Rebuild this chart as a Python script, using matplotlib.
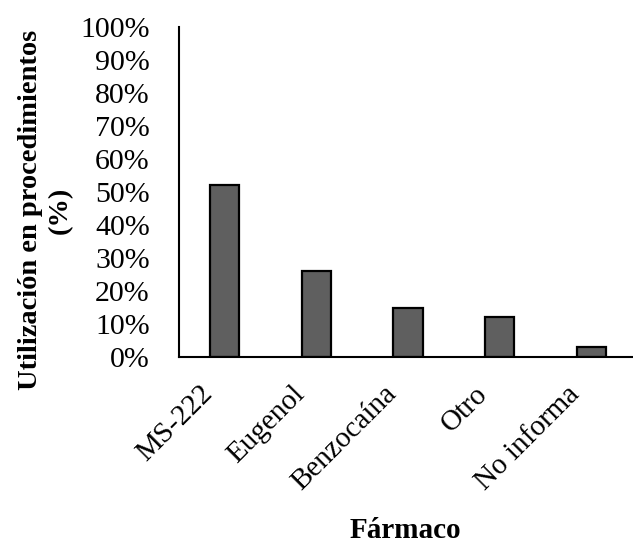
import matplotlib
matplotlib.use("Agg")
import matplotlib.pyplot as plt
from matplotlib.ticker import PercentFormatter
from matplotlib.transforms import ScaledTranslation

farmacos = ["MS-222", "Eugenol", "Benzocaína", "Otro", "No informa"]
utilizacion = [52, 26, 15, 12, 3]
yticks = list(range(0, 101, 10))

plt.rcParams["font.family"] = ["Liberation Serif", "DejaVu Serif"]

fig = plt.figure(figsize=(6.33, 5.52), dpi=100)
ax = fig.add_axes([179 / 633, 1 - 357 / 552, 458 / 633, 330 / 552])

x = range(len(farmacos))
ax.bar(x, utilizacion, width=0.32, color="#5f5f5f", edgecolor="black", linewidth=1.6)

ax.set_xlim(-0.5, len(farmacos) - 0.5)
ax.set_ylim(0, 100)
ax.set_yticks(yticks)
ax.yaxis.set_major_formatter(PercentFormatter(decimals=0))
ax.set_xticks(list(x))
ax.set_xticklabels(farmacos, rotation=45, ha="right", rotation_mode="anchor")

ax.tick_params(axis="x", length=0, labelsize=21, pad=10)
ax.tick_params(axis="y", length=0, labelsize=21.5, pad=21)

# shift the rotated labels a bit left/down, like the original
shift = ScaledTranslation(-25 / 100, -10 / 100, fig.dpi_scale_trans)
for lbl in ax.get_xticklabels():
    lbl.set_transform(lbl.get_transform() + shift)

for s in ["top", "right"]:
    ax.spines[s].set_visible(False)
for s in ["left", "bottom"]:
    ax.spines[s].set_linewidth(1.5)

fig.text(45 / 633, 1 - 210 / 552, "Utilización en procedimientos\n(%)", fontsize=20.5,
         fontweight="bold", rotation=90, ha="center", va="center",
         multialignment="center", linespacing=1.25)
fig.text(405 / 633, 1 - 530 / 552, "Fármaco", fontsize=21, fontweight="bold",
         ha="center", va="center")

fig.savefig("out.png", dpi=100)
